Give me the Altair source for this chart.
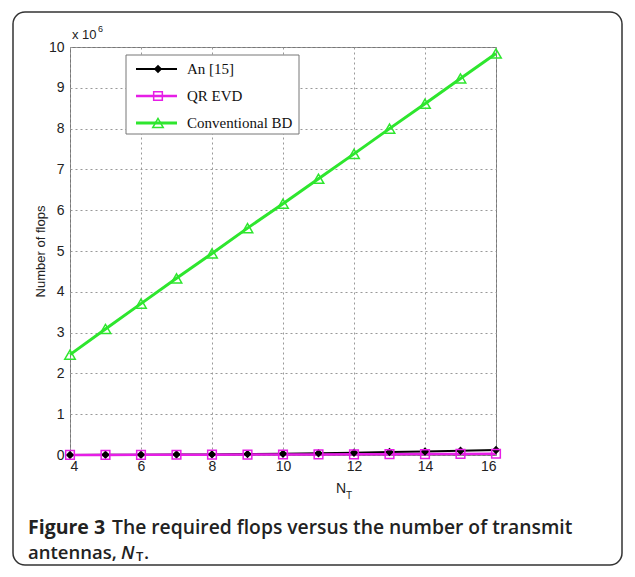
import altair as alt
import pandas as pd

# ---- data ----
nt = [4, 5, 6, 7, 8, 9, 10, 11, 12, 13, 14, 15, 16]
an15 = [0.002e6, 0.004e6, 0.006e6, 0.010e6, 0.015e6, 0.022e6, 0.032e6,
        0.043e6, 0.057e6, 0.072e6, 0.088e6, 0.104e6, 0.122e6]
qr_evd = [0.002e6, 0.003e6, 0.004e6, 0.006e6, 0.008e6, 0.010e6, 0.012e6,
          0.014e6, 0.017e6, 0.020e6, 0.023e6, 0.026e6, 0.030e6]
conv_bd = [2.46e6, 3.09e6, 3.71e6, 4.33e6, 4.94e6, 5.56e6, 6.16e6,
           6.77e6, 7.38e6, 8.00e6, 8.61e6, 9.23e6, 9.84e6]

series_names = ["An [15]", "QR EVD", "Conventional BD"]
series_colors = ["#000000", "#e61ee6", "#2ee62e"]
series_fills = ["#000000", "transparent", "transparent"]
series_shapes = ["diamond", "square", "triangle-up"]
series_sizes = [40, 110, 140]
series_widths = [2, 3, 2]

x_ticks = [4, 6, 8, 10, 12, 14, 16]
y_ticks = [i * 1e6 for i in range(0, 11)]

caption_bold = "Figure 3"
caption_rest = "The required flops versus the number of transmit"
caption_line2 = "antennas,"
y_title = "Number of flops"

rows = []
for name, vals in zip(series_names, [an15, qr_evd, conv_bd]):
    for n, v in zip(nt, vals):
        rows.append({"N": n, "flops": v, "series": name})
df = pd.DataFrame(rows)

W, H = 426, 408

color_sc = alt.Scale(domain=series_names, range=series_colors)
fill_sc = alt.Scale(domain=series_names, range=series_fills)
shape_sc = alt.Scale(domain=series_names, range=series_shapes)
size_sc = alt.Scale(domain=series_names, range=series_sizes)
sw_sc = alt.Scale(domain=series_names, range=series_widths)

x_enc = alt.X("N:Q", scale=alt.Scale(domain=[4, 16], nice=False),
              axis=alt.Axis(values=x_ticks, grid=True, gridDash=[2, 3], gridColor="#999",
                            domain=False, ticks=False, labelFont="Liberation Sans",
                            labelFontSize=14, labelColor="#222", labelPadding=4,
                            title=None))
y_enc = alt.Y("flops:Q", scale=alt.Scale(domain=[0, 1e7], nice=False),
              axis=alt.Axis(values=y_ticks, labelExpr="datum.value/1e6", grid=True,
                            gridDash=[2, 3], gridColor="#999", domain=False, ticks=False,
                            labelFont="Liberation Sans", labelFontSize=14,
                            labelColor="#222", labelPadding=6,
                            title=y_title, titleFont="Liberation Sans", titleFontSize=13,
                            titleFontWeight="normal", titleColor="#222",
                            titleX=-30, titleY=H / 2, titleAngle=270,
                            titleAlign="center", titleBaseline="middle"))

lines = alt.Chart(df).mark_line().encode(
    x=x_enc, y=y_enc,
    color=alt.Color("series:N", scale=color_sc, legend=None),
    strokeWidth=alt.StrokeWidth("series:N", scale=sw_sc, legend=None),
)
points = alt.Chart(df).mark_point(strokeWidth=1.5, opacity=1).encode(
    x="N:Q", y="flops:Q",
    color=alt.Color("series:N", scale=color_sc, legend=None),
    fill=alt.Fill("series:N", scale=fill_sc, legend=None),
    shape=alt.Shape("series:N", scale=shape_sc, legend=None),
    size=alt.Size("series:N", scale=size_sc, legend=None),
)
main = alt.layer(lines, points)

# ---- legend box ----
leg_df = pd.DataFrame({"series": series_names})
names_js = "[" + ",".join("'" + s + "'" for s in series_names) + "]"
leg_y = alt.Y("idx:Q", scale=alt.Scale(domain=[0, 2], range=[22, 76], nice=False, zero=False),
              axis=None)


def leg_base():
    return alt.Chart(leg_df).transform_calculate(idx=f"indexof({names_js}, datum.series)")


leg_box = alt.Chart(pd.DataFrame({"a": [0]})).mark_rect(
    fill="white", stroke="#777", strokeWidth=1).encode(
    x=alt.value(56), x2=alt.value(229), y=alt.value(8), y2=alt.value(87))
leg_lines = leg_base().mark_rule().encode(
    x=alt.value(66), x2=alt.value(107), y=leg_y,
    color=alt.Color("series:N", scale=color_sc, legend=None),
    strokeWidth=alt.StrokeWidth("series:N", scale=sw_sc, legend=None))
leg_pts = leg_base().mark_point(strokeWidth=1.5, opacity=1).encode(
    x=alt.value(88), y=leg_y,
    color=alt.Color("series:N", scale=color_sc, legend=None),
    fill=alt.Fill("series:N", scale=fill_sc, legend=None),
    shape=alt.Shape("series:N", scale=shape_sc, legend=None),
    size=alt.Size("series:N", scale=size_sc, legend=None))
leg_txt = leg_base().mark_text(
    align="left", baseline="middle", font="Liberation Serif", fontSize=15,
    color="#111").encode(x=alt.value(117), y=leg_y, text="series:N")
legend = alt.layer(leg_box, leg_lines, leg_pts, leg_txt)


def txt(s, x, y, size=14, font="Liberation Sans", weight="normal", style="normal",
        align="left", color="#222"):
    return alt.Chart(pd.DataFrame({"t": [s]})).mark_text(
        align=align, baseline="middle", font=font, fontSize=size,
        fontWeight=weight, fontStyle=style, color=color).encode(
        x=alt.value(x), y=alt.value(y), text="t:N")


frame = alt.Chart(pd.DataFrame({"a": [0]})).mark_rect(
    fill="transparent", stroke="#333", strokeWidth=1.5, cornerRadius=12).encode(
    x=alt.value(-57), x2=alt.value(552), y=alt.value(-35), y2=alt.value(518))

cap = "#222"
texts = alt.layer(
    frame,
    txt("x 10", 2, -12, 13),
    txt("6", 28, -18, 9),
    txt("N", 271, 442, 14, align="center"),
    txt("T", 279, 449, 10, align="center"),
    txt(caption_bold, -42, 481, 19.5, font="Open Sans", weight="bold", color=cap),
    txt(caption_rest, 42, 481, 19.3, font="Open Sans", weight=600, color=cap),
    txt(caption_line2, -42, 506, 18.5, font="Open Sans", weight=600, color=cap),
    txt("N", 51, 506, 18.5, font="Open Sans", weight=600, style="italic", color=cap),
    txt("T", 66, 510, 13, font="Open Sans", weight=600, color=cap),
    txt(".", 74, 506, 18.5, font="Open Sans", weight=600, color=cap),
)

chart = alt.layer(main, legend, texts).resolve_scale(y="independent").properties(
    width=W, height=H,
    autosize=alt.AutoSizeParams(type="none"),
    padding={"left": 62, "top": 39, "right": 131, "bottom": 115},
    background="white",
).configure_view(stroke="#777", strokeWidth=1)

chart.save("out.html", embed_options={"renderer": "svg", "actions": False})
